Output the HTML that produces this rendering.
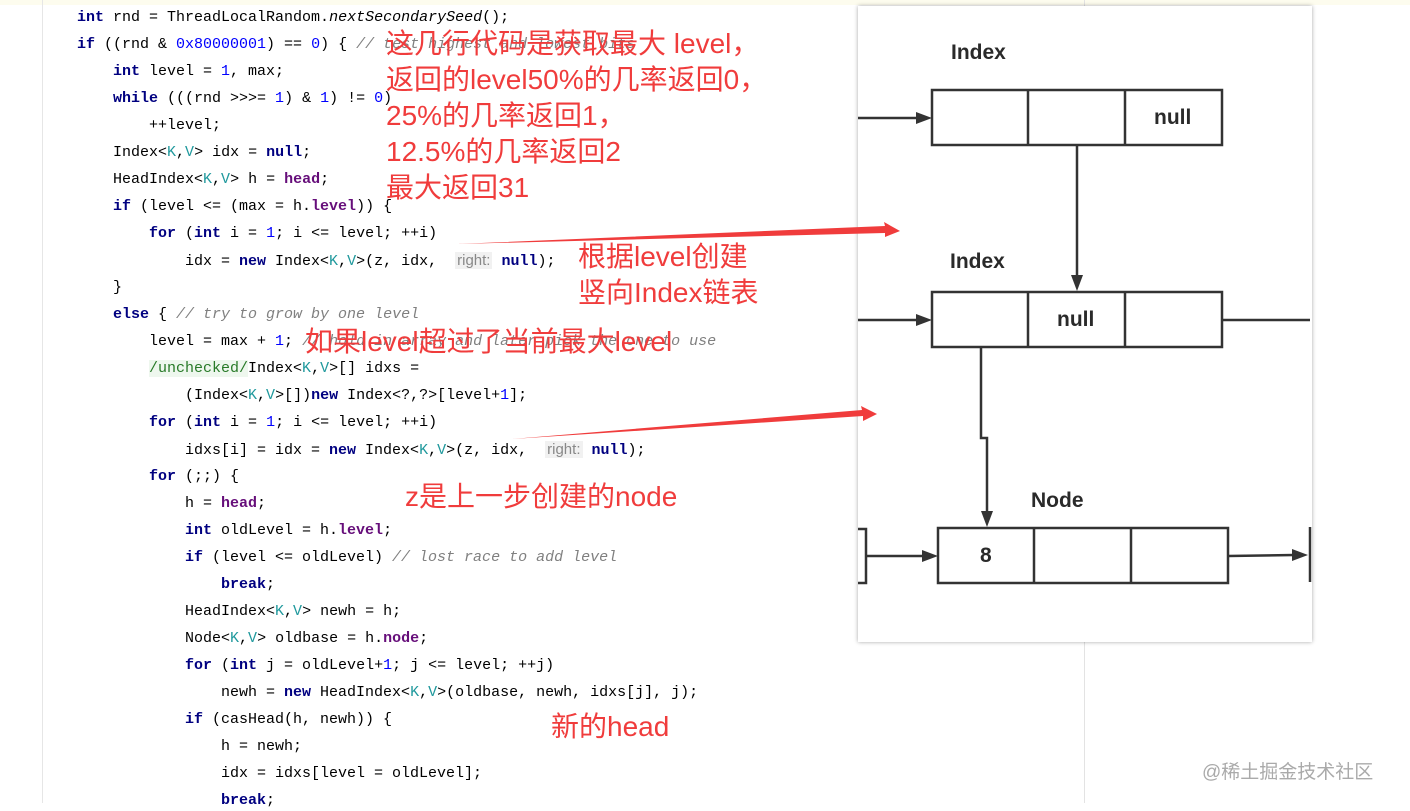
<!DOCTYPE html>
<html><head><meta charset="utf-8">
<style>
body{margin:0;width:1410px;height:803px;overflow:hidden;background:#fff;position:relative;font-family:"Liberation Mono","Noto Sans CJK SC",monospace;}
.top{position:absolute;left:0;top:0;width:1410px;height:5px;background:#fdfcee;}
.gut{position:absolute;left:42px;top:0;width:1px;height:803px;background:#e6e6e6;}
.vl{position:absolute;left:1084px;top:0;width:1px;height:803px;background:#e3e3e3;}
.c{position:absolute;font-size:15px;line-height:20px;color:#000;white-space:pre;}
.k{color:#000080;font-weight:bold}
.n{color:#0000ff}
.t{color:#20999d}
.f{color:#660e7a;font-weight:bold}
.cm{color:#808080;font-style:italic}
.h{font-family:"Liberation Sans",sans-serif;color:#888;background:#f1f1f1;font-size:15px;padding:0 2px;}
.r{position:absolute;color:#f03c3c;font-family:"Liberation Sans","Noto Sans CJK SC",sans-serif;font-size:28px;line-height:36px;white-space:pre;}
.panel{position:absolute;left:858px;top:6px;width:454px;height:636px;background:#fff;box-shadow:0 0 4px rgba(0,0,0,.35);}
.lbl{position:absolute;font-family:"Liberation Sans",sans-serif;font-weight:bold;font-size:21px;color:#2a2a2a;}
.wm{position:absolute;left:1202px;top:757px;font-family:"Liberation Sans","Noto Sans CJK SC",sans-serif;font-size:19px;color:#aaa;}
</style></head><body>
<div class="top"></div>
<div class="gut"></div>
<div class="vl"></div>
<div class="panel"></div>

<div class="c" style="left:77px;top:8px"><span class="k">int</span> rnd = ThreadLocalRandom.<i>nextSecondarySeed</i>();</div>
<div class="c" style="left:77px;top:35px"><span class="k">if</span> ((rnd &amp; <span class="n">0x80000001</span>) == <span class="n">0</span>) { <span class="cm">// test highest and lowest bits</span></div>
<div class="c" style="left:113px;top:62px"><span class="k">int</span> level = <span class="n">1</span>, max;</div>
<div class="c" style="left:113px;top:89px"><span class="k">while</span> (((rnd &gt;&gt;&gt;= <span class="n">1</span>) &amp; <span class="n">1</span>) != <span class="n">0</span>)</div>
<div class="c" style="left:149px;top:116px">++level;</div>
<div class="c" style="left:113px;top:143px">Index&lt;<span class="t">K</span>,<span class="t">V</span>&gt; idx = <span class="k">null</span>;</div>
<div class="c" style="left:113px;top:170px">HeadIndex&lt;<span class="t">K</span>,<span class="t">V</span>&gt; h = <span class="f">head</span>;</div>
<div class="c" style="left:113px;top:197px"><span class="k">if</span> (level &lt;= (max = h.<span class="f">level</span>)) {</div>
<div class="c" style="left:149px;top:224px"><span class="k">for</span> (<span class="k">int</span> i = <span class="n">1</span>; i &lt;= level; ++i)</div>
<div class="c" style="left:185px;top:251px">idx = <span class="k">new</span> Index&lt;<span class="t">K</span>,<span class="t">V</span>&gt;(z, idx,  <span class="h">right:</span> <span class="k">null</span>);</div>
<div class="c" style="left:113px;top:278px">}</div>
<div class="c" style="left:113px;top:305px"><span class="k">else</span> { <span class="cm">// try to grow by one level</span></div>
<div class="c" style="left:149px;top:332px">level = max + <span class="n">1</span>; <span class="cm">// hold in array and later pick the one to use</span></div>
<div class="c" style="left:149px;top:359px"><span style="color:#287a28;background:#eef7ee">/unchecked/</span>Index&lt;<span class="t">K</span>,<span class="t">V</span>&gt;[] idxs =</div>
<div class="c" style="left:185px;top:386px">(Index&lt;<span class="t">K</span>,<span class="t">V</span>&gt;[])<span class="k">new</span> Index&lt;?,?&gt;[level+<span class="n">1</span>];</div>
<div class="c" style="left:149px;top:413px"><span class="k">for</span> (<span class="k">int</span> i = <span class="n">1</span>; i &lt;= level; ++i)</div>
<div class="c" style="left:185px;top:440px">idxs[i] = idx = <span class="k">new</span> Index&lt;<span class="t">K</span>,<span class="t">V</span>&gt;(z, idx,  <span class="h">right:</span> <span class="k">null</span>);</div>
<div class="c" style="left:149px;top:467px"><span class="k">for</span> (;;) {</div>
<div class="c" style="left:185px;top:494px">h = <span class="f">head</span>;</div>
<div class="c" style="left:185px;top:521px"><span class="k">int</span> oldLevel = h.<span class="f">level</span>;</div>
<div class="c" style="left:185px;top:548px"><span class="k">if</span> (level &lt;= oldLevel) <span class="cm">// lost race to add level</span></div>
<div class="c" style="left:221px;top:575px"><span class="k">break</span>;</div>
<div class="c" style="left:185px;top:602px">HeadIndex&lt;<span class="t">K</span>,<span class="t">V</span>&gt; newh = h;</div>
<div class="c" style="left:185px;top:629px">Node&lt;<span class="t">K</span>,<span class="t">V</span>&gt; oldbase = h.<span class="f">node</span>;</div>
<div class="c" style="left:185px;top:656px"><span class="k">for</span> (<span class="k">int</span> j = oldLevel+<span class="n">1</span>; j &lt;= level; ++j)</div>
<div class="c" style="left:221px;top:683px">newh = <span class="k">new</span> HeadIndex&lt;<span class="t">K</span>,<span class="t">V</span>&gt;(oldbase, newh, idxs[j], j);</div>
<div class="c" style="left:185px;top:710px"><span class="k">if</span> (casHead(h, newh)) {</div>
<div class="c" style="left:221px;top:737px">h = newh;</div>
<div class="c" style="left:221px;top:764px">idx = idxs[level = oldLevel];</div>
<div class="c" style="left:221px;top:791px"><span class="k">break</span>;</div>

<div class="r" style="left:386px;top:26px">这几行代码是获取最大 level，
返回的level50%的几率返回0，
25%的几率返回1，
12.5%的几率返回2
最大返回31</div>
<div class="r" style="left:578px;top:239px">根据level创建
竖向Index链表</div>
<div class="r" style="left:305px;top:324px">如果level超过了当前最大level</div>
<div class="r" style="left:405px;top:479px">z是上一步创建的node</div>
<div class="r" style="left:551px;top:709px">新的head</div>

<svg style="position:absolute;left:0;top:0" width="1410" height="803">
<g fill="#f03c3c">
<polygon points="457,244 885,226 884,222 900,231 885,237 885,233"/>
<polygon points="512,439 862,410 861,406 877,414 863,421 863,416"/>
</g>
<g stroke="#333" stroke-width="2.5" fill="none">
<rect x="932" y="90" width="290" height="55"/><line x1="1028" y1="90" x2="1028" y2="145"/><line x1="1125" y1="90" x2="1125" y2="145"/>
<rect x="932" y="292" width="290" height="55"/><line x1="1028" y1="292" x2="1028" y2="347"/><line x1="1125" y1="292" x2="1125" y2="347"/>
<rect x="938" y="528" width="290" height="55"/><line x1="1034" y1="528" x2="1034" y2="583"/><line x1="1131" y1="528" x2="1131" y2="583"/>
<line x1="858" y1="118" x2="918" y2="118"/>
<line x1="858" y1="320" x2="918" y2="320"/>
<line x1="1077" y1="145" x2="1077" y2="276"/>
<line x1="1222" y1="320" x2="1310" y2="320"/>
<polyline points="981,347 981,438 987,438 987,512"/>
<polyline points="858,529 866,529 866,583 858,583"/>
<line x1="866" y1="556" x2="924" y2="556"/>
<line x1="1228" y1="556" x2="1294" y2="555"/>
<line x1="1310" y1="527" x2="1310" y2="582"/>
</g>
<g fill="#333">
<polygon points="932,118 916,112 916,124"/>
<polygon points="932,320 916,314 916,326"/>
<polygon points="1077,291 1071,275 1083,275"/>
<polygon points="987,527 981,511 993,511"/>
<polygon points="938,556 922,550 922,562"/>
<polygon points="1308,555 1292,549 1292,561"/>
</g>
</svg>
<div class="lbl" style="left:951px;top:41px">Index</div>
<div class="lbl" style="left:950px;top:250px">Index</div>
<div class="lbl" style="left:1031px;top:489px">Node</div>
<div class="lbl" style="left:1154px;top:106px">null</div>
<div class="lbl" style="left:1057px;top:308px">null</div>
<div class="lbl" style="left:980px;top:544px">8</div>
<div class="wm">@稀土掘金技术社区</div>
</body></html>
